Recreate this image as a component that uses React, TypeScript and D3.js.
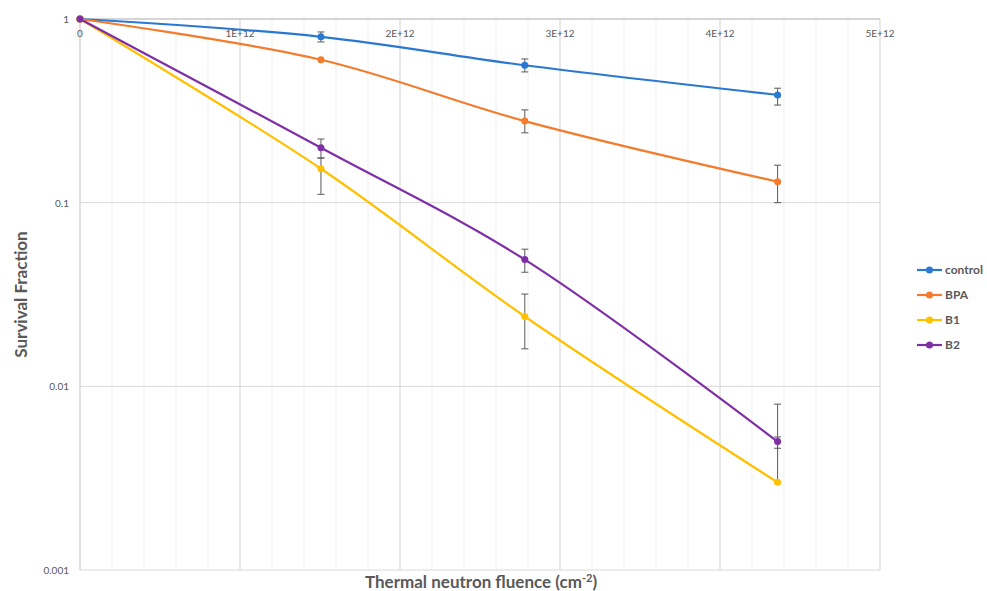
import React from "react";
import * as d3 from "d3";

const fluence = [0, 1.506e12, 2.78e12, 4.36e12];
const seriesNames = ["control", "BPA", "B1", "B2"];
const seriesColors = ["#2a78d2", "#f47b2c", "#ffc000", "#7f2fa5"];
const controlValues = [1, 0.8, 0.56, 0.386];
const bpaValues = [1, 0.6, 0.278, 0.13];
const b1Values = [1, 0.153, 0.024, 0.003];
const b2Values = [1, 0.199, 0.049, 0.005];
// error bar ends [low, high] (null = none)
const controlErr = [null, [0.75, 0.85], [0.515, 0.606], [0.34, 0.42]];
const bpaErr = [null, null, [0.24, 0.32], [0.1, 0.16]];
const b1Err = [null, [0.111, 0.175], [0.016, 0.0318], [0.003, 0.0053]];
const b2Err = [null, [0.175, 0.222], [0.0418, 0.0558], [0.0046, 0.008]];
const xTickLabels = ["0", "1E+12", "2E+12", "3E+12", "4E+12", "5E+12"];
const yTickValues = [1, 0.1, 0.01, 0.001];
const yTickLabels = ["1", "0.1", "0.01", "0.001"];

const W = 987, H = 591;
const left = 80, right = 880, top = 19, bottom = 570;
const FONT = "Lato, 'Open Sans', sans-serif";
const TXT = "#595959";

export default function App() {
  const x = d3.scaleLinear().domain([0, 5e12]).range([left, right]);
  const y = d3.scaleLog().domain([0.001, 1]).range([bottom, top]);
  const values = [controlValues, bpaValues, b1Values, b2Values];
  const errs = [controlErr, bpaErr, b1Err, b2Err];
  const line = d3
    .line<number>()
    .x((_, i) => x(fluence[i]))
    .y((d) => y(d))
    .curve(d3.curveCatmullRom.alpha(0.5));
  const minorTicks = d3.range(0, 5e12 + 1, 2e11);
  const majorTicks = d3.range(0, 5e12 + 1, 1e12);

  return (
    <svg width={W} height={H} style={{ position: "absolute", left: 0, top: 0 }}>
      <rect width={W} height={H} fill="#fff" />
      {minorTicks.map((t, i) => (
        <line key={"mn" + i} x1={x(t)} x2={x(t)} y1={top} y2={bottom} stroke="#efefef" strokeWidth={1} />
      ))}
      {majorTicks.map((t, i) => (
        <line key={"mj" + i} x1={x(t)} x2={x(t)} y1={top} y2={bottom} stroke="#d9d9d9" strokeWidth={1} />
      ))}
      {yTickValues.map((v, i) => (
        <line key={"h" + i} x1={left} x2={right} y1={y(v)} y2={y(v)} stroke="#d9d9d9" strokeWidth={1} />
      ))}
      <line x1={left} x2={right} y1={top} y2={top} stroke="#bfbfbf" strokeWidth={1} />
      <line x1={left} x2={left} y1={top} y2={bottom} stroke="#d9d9d9" strokeWidth={1} />
      {majorTicks.map((t, i) => (
        <text key={"xl" + i} x={x(t)} y={top + 18} textAnchor="middle" fontSize={10} fill={TXT} fontFamily={FONT}>
          {xTickLabels[i]}
        </text>
      ))}
      {yTickValues.map((v, i) => (
        <text key={"yl" + i} x={left - 11} y={y(v) + 4} textAnchor="end" fontSize={10} fill={TXT} fontFamily={FONT}>
          {yTickLabels[i]}
        </text>
      ))}
      {values.map((vals, s) => (
        <path key={"p" + s} d={line(vals) || ""} fill="none" stroke={seriesColors[s]} strokeWidth={2.2} />
      ))}
      {errs.map((es, s) =>
        es.map((e, i) =>
          e ? (
            <g key={"e" + s + "-" + i} stroke="#595959" strokeWidth={1}>
              <line x1={x(fluence[i])} x2={x(fluence[i])} y1={y(e[0])} y2={y(e[1])} />
              <line x1={x(fluence[i]) - 3.5} x2={x(fluence[i]) + 3.5} y1={y(e[0])} y2={y(e[0])} />
              <line x1={x(fluence[i]) - 3.5} x2={x(fluence[i]) + 3.5} y1={y(e[1])} y2={y(e[1])} />
            </g>
          ) : null
        )
      )}
      {values.map((vals, s) =>
        vals.map((v, i) => <circle key={"c" + s + "-" + i} cx={x(fluence[i])} cy={y(v)} r={3.5} fill={seriesColors[s]} />)
      )}
      {seriesNames.map((n, i) => (
        <g key={"lg" + i} transform={`translate(917,${270 + i * 25})`}>
          <line x1={0} x2={25} y1={0} y2={0} stroke={seriesColors[i]} strokeWidth={2.2} />
          <circle cx={12.5} cy={0} r={3.5} fill={seriesColors[i]} />
          <text x={28} y={4} fontSize={12} fontWeight="bold" fill={TXT} fontFamily={FONT}>
            {n}
          </text>
        </g>
      ))}
      <text
        transform={`translate(27,${(top + bottom) / 2}) rotate(-90)`}
        textAnchor="middle"
        fontSize={17}
        fontWeight="bold"
        fill={TXT}
        fontFamily={FONT}
      >
        Survival Fraction
      </text>
      <text x={481} y={588} textAnchor="middle" fontSize={17} fontWeight="bold" fill={TXT} fontFamily={FONT}>
        Thermal neutron fluence (cm
        <tspan dy={-6} fontSize={11}>-2</tspan>
        <tspan dy={6}>)</tspan>
      </text>
    </svg>
  );
}
